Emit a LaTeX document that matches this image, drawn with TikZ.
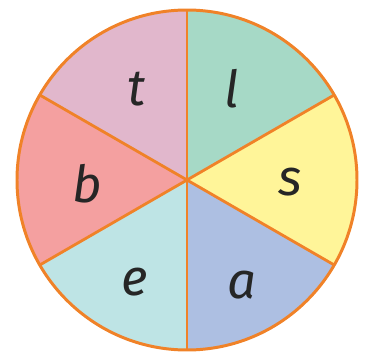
\documentclass[tikz,border=0pt]{standalone}
\usepackage{fontspec}
\setmainfont{Fira Sans}
\usetikzlibrary{positioning}
\definecolor{bordo}{RGB}{240,130,40}
\definecolor{rosa}{RGB}{225,183,204}
\definecolor{verde}{RGB}{166,217,198}
\definecolor{giallo}{RGB}{255,245,153}
\definecolor{blu}{RGB}{173,191,226}
\definecolor{azzurro}{RGB}{190,228,229}
\definecolor{salmone}{RGB}{244,160,160}
\tikzset{lettera/.style={font=\fontsize{29}{29}\selectfont\itshape, text=black!85, anchor=base}}

\begin{document}
\begin{tikzpicture}
        \useasboundingbox (-3.74,-3.44) rectangle (3.56,3.6);
        %settori
            \foreach \a/\c in {30/verde,90/rosa,150/salmone,210/azzurro,270/blu,330/giallo}
                \fill[\c] (0,0) -- (\a:3.4) arc[start angle=\a, delta angle=60, radius=3.4] -- cycle;
        %bordo e raggi
            \draw[bordo, line width=1.7pt] (0,0) circle (3.4);
            \foreach \a in {30,90,...,330}
                \draw[bordo, line width=1.6pt] (0,0) -- (\a:3.4);
        %lettere
            \node[lettera] (t) at (-1.0,1.5) {t};
            \node[lettera] (l) at (0.9,1.45) {l};
            \node[lettera] (b) at (-2.0,-0.44) {b};
            \node[lettera] (s) at (2.06,-0.3) {s};
            \node[lettera] (e) at (-1.04,-2.3) {e};
            \node[lettera] (a) at (1.1,-2.36) {a};
\end{tikzpicture}
\end{document}
